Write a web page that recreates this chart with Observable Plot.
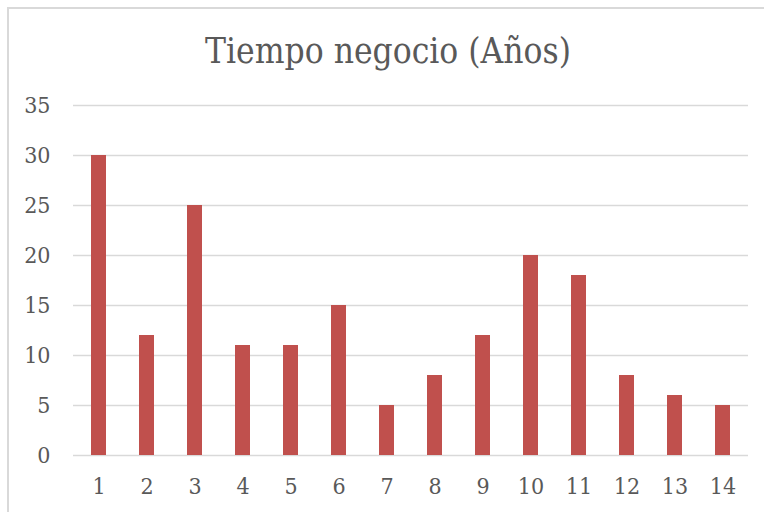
<!DOCTYPE html>
<html>
<head>
<meta charset="utf-8">
<script src="https://cdn.jsdelivr.net/npm/d3@7"></script>
<script src="https://cdn.jsdelivr.net/npm/@observablehq/plot@0.6"></script>
<style>
  html, body { margin: 0; padding: 0; background: #fff; }
  #wrap { position: relative; width: 764px; height: 512px; overflow: hidden; }
  #frame { position: absolute; left: 7px; top: 7px; width: 800px; height: 600px; border: 2px solid #d9d9d9; box-sizing: border-box; }
  #title { position: absolute; left: 7px; width: 762px; top: 0; height: 90px; text-align: center;
           font-family: "DejaVu Serif Condensed", "DejaVu Serif", serif; font-size: 35px; color: #595959;
           line-height: 90px; padding-top: 6px; box-sizing: border-box; }
  #chart { position: absolute; left: 0; top: 90px; }
</style>
</head>
<body>
<div id="wrap">
  <div id="frame"></div>
  <div id="title">Tiempo negocio (Años)</div>
  <div id="chart"></div>
</div>
<script>
const categories = ["1","2","3","4","5","6","7","8","9","10","11","12","13","14"];
const values = [30, 12, 25, 11, 11, 15, 5, 8, 12, 20, 18, 8, 6, 5];
const yTicks = [0, 5, 10, 15, 20, 25, 30, 35];

const data = categories.map((c, i) => ({category: c, value: values[i]}));

const chart = Plot.plot({
  width: 764,
  height: 422,
  marginTop: 15,
  marginBottom: 57,
  marginLeft: 73,
  marginRight: 16,
  style: {fontFamily: '"DejaVu Serif Condensed", "DejaVu Serif", serif', fontSize: "23px", color: "#595959", background: "transparent"},
  x: {domain: categories, paddingInner: 0.69, paddingOuter: 0.345, label: null, tickSize: 0, tickPadding: 22},
  y: {domain: [0, 35], ticks: yTicks, label: null, tickSize: 0, tickPadding: 23},
  marks: [
    Plot.ruleY(yTicks, {stroke: "#d9d9d9", strokeWidth: 1.5}),
    Plot.barY(data, {x: "category", y: "value", fill: "#C0504D"}),
    Plot.axisY({ticks: yTicks, tickSize: 0, tickPadding: 23, label: null}),
    Plot.axisX({tickSize: 0, tickPadding: 22, label: null})
  ]
});
document.getElementById("chart").appendChild(chart);
</script>
</body>
</html>
